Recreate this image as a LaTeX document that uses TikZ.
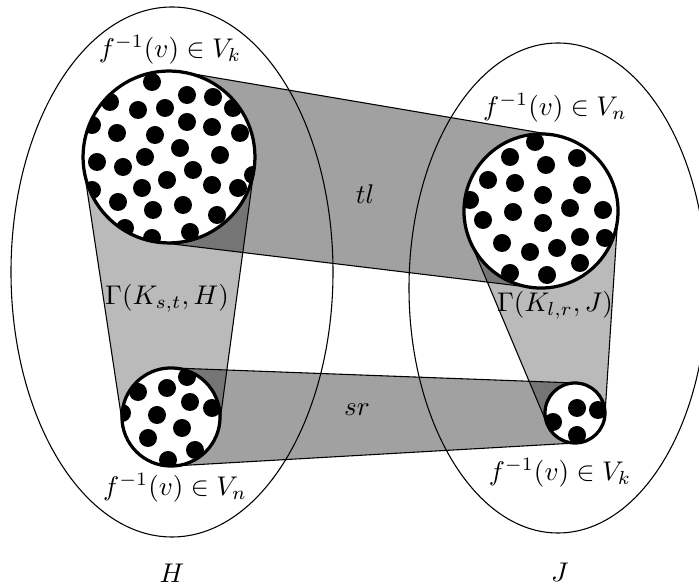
\documentclass[tikz,border=0pt]{standalone}
\usetikzlibrary{shapes.geometric,backgrounds}

\begin{document}
\begin{tikzpicture}[
    x=0.37pt, y=0.37pt,
    every node/.style={font=\normalsize},
    blob/.style={circle, draw, very thick, fill=white, inner sep=0pt, outer sep=0pt},
    dotted blob/.style={blob, path picture={
        \foreach \dx/\dy in {#1}
            \fill[black] ([shift={(\dx,\dy)}]path picture bounding box.center) circle[radius=9];
    }},
    lightband/.style={draw=black, thin, fill=black, fill opacity=0.27},
    darkband/.style={draw=black, thin, fill=black, fill opacity=0.37},
    label/.style={inner sep=1pt}
]

% -------------------------
% Frame
% -------------------------
    \useasboundingbox (0,0) rectangle (699,-588);

% -------------------------
% Graphs H and J
% -------------------------
    \draw[thin] (172,-272) ellipse[x radius=161, y radius=265];
    \draw[thin] (558,-288) ellipse[x radius=149, y radius=245];

% -------------------------
% Vertex sets
% -------------------------
    \node[dotted blob={-17/75, -59/55, 18/62, 44/60, 64/49, -31/47, -4/49, -77/32, 18/35,
        43/30, 71/24, -52/24, -14/22, 11/9, 51/2, -72/-5, -46/-10, -24/0, 24/-13, -2/-23,
        -27/-31, 43/-28, 69/-31, -77/-33, -51/-45, -16/-53, 14/-48, 48/-58, -44/-71,
        -17/-81, 21/-75, 84/-18}, minimum size=63.6pt] (setHk) at (169,-157) {};
    \node[dotted blob={-6/69, -31/54, 5/46, 36/53, -53/31, -26/28, 41/26, -71/11, 2/16,
        29/3, 62/1, -58/-9, -28/-1, 2/-12, 39/-26, 64/-27, -39/-32, -11/-41, 16/-37,
        39/-52, -31/-62, 6/-64}, minimum size=57pt] (setJn) at (541,-211) {};
    \node[dotted blob={16/40, -33/25, -4/29, 19/15, 41/9, -14/2, 11/-11, -49/4, -23/-21,
        24/-33, -3/-43}, minimum size=36.3pt] (setHn) at (171,-417) {};
    \node[dotted blob={2/5, 23/3, -22/-9, 2/-22}, minimum size=22.2pt] (setJk) at (575,-413) {};

% -------------------------
% Bands (behind the sets)
% -------------------------
    \begin{pgfonlayer}{background}
        % Gamma bands inside H and J
        \draw[lightband] (setHk.352.26) -- (setHn.352.26) -- (setHn.188.62) -- (setHk.188.62) -- cycle;
        \draw[lightband] (setJn.356.28) -- (setJk.356.28) -- (setJk.202.82) -- (setJn.202.82) -- cycle;
        % tl and sr bands between H and J
        \draw[darkband] (setHk.80.37) -- (setJn.80.37) -- (setJn.263.11) -- (setHk.263.11) -- cycle;
        \draw[darkband] (setHn.87.87) -- (setJk.87.87) -- (setJk.273.26) -- (setHn.273.26) -- cycle;
    \end{pgfonlayer}

% -------------------------
% Labels
% -------------------------
    \node[label] (lblHk) at (170,-50) {$f^{-1}(v)\in V_k$};
    \node[label] (lblJn) at (555,-108) {$f^{-1}(v)\in V_n$};
    \node[label] (lblHn) at (175,-488) {$f^{-1}(v)\in V_n$};
    \node[label] (lblJk) at (560,-473) {$f^{-1}(v)\in V_k$};
    \node[label] (lblTl) at (365,-194) {$tl$};
    \node[label] (lblSr) at (357,-410) {$sr$};
    \node[label] (lblGammaH) at (167,-298) {$\Gamma(K_{s,t},H)$};
    \node[label] (lblGammaJ) at (555,-305) {$\Gamma(K_{l,r},J)$};
    \node[label] (lblH) at (172,-573) {$H$};
    \node[label] (lblJ) at (560,-572) {$J$};
\end{tikzpicture}
\end{document}
